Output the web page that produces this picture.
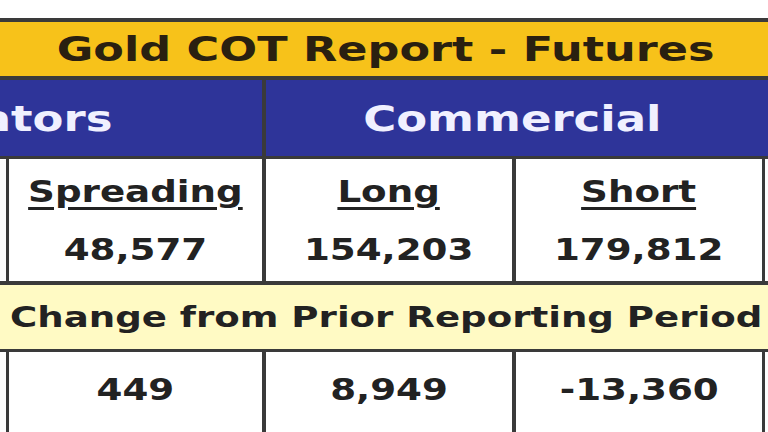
<!DOCTYPE html>
<html><head><meta charset="utf-8">
<script src="https://cdn.jsdelivr.net/npm/chart.js@4"></script>
<style>
html,body{margin:0;padding:0;width:768px;height:432px;overflow:hidden;background:#fff;font-family:"DejaVu Sans",Verdana,sans-serif;font-weight:bold}
.b{position:absolute;box-sizing:border-box;display:flex;align-items:center;justify-content:center;color:#222}
.s{display:inline-block;white-space:nowrap}
</style></head><body>
<div id="root"></div>
<script>
const title = "Gold COT Report - Futures";
const groups = ["ators", "Commercial"];
const columns = ["Spreading", "Long", "Short"];
const positions = ["48,577", "154,203", "179,812"];
const changeLabel = "Change from Prior Reporting Period";
const changes = ["449", "8,949", "-13,360"];

const root = document.getElementById('root');
function sx(t,k,o){return `<span class="s" style="transform:scaleX(${k});transform-origin:${o||'center'}">${t}</span>`;}
function box(x,y,w,h,bg,html,extra){
  const d=document.createElement('div');d.className='b';
  d.style.cssText+=`left:${x}px;top:${y}px;width:${w}px;height:${h}px;background:${bg};`+(extra||'');
  d.innerHTML=html;root.appendChild(d);return d;
}
box(0,18,768,414,'#3a3a3a','');
box(0,22,768,54,'#f7c21a',sx(title,1.35),'font-size:33px;color:#2a2010;padding-left:4px;');
box(0,80,262,76,'#2e3499',sx(groups[0],1.25,'right'),'font-size:36px;color:#f0f0ff;justify-content:flex-end;padding-right:150px;');
box(266,80,502,76,'#2e3499',sx(groups[1],1.25),'font-size:36px;color:#f0f0ff;padding-right:10px;');
const cx=[[9,253],[266,246],[516,246]];
box(0,159,6,122,'#fff','');
box(765,159,3,122,'#fff','');
cx.forEach((c,i)=>{
  box(c[0],159,c[1],122,'#fff',`<div style="text-align:center;line-height:58px;transform:scaleX(1.2)"><span style="text-decoration:underline;text-underline-offset:5px">${columns[i]}</span><br>${positions[i]}</div>`,'font-size:31px;');
});
box(0,285,768,64,'#fffac4',sx(changeLabel,1.28,'left'),'font-size:29px;justify-content:flex-start;padding-left:10px;');
box(0,352,6,80,'#fff','');
box(765,352,3,80,'#fff','');
cx.forEach((c,i)=>{
  box(c[0],352,c[1],80,'#fff',sx(changes[i],1.2),'font-size:31px;padding-bottom:6px;');
});
</script>
</body></html>
